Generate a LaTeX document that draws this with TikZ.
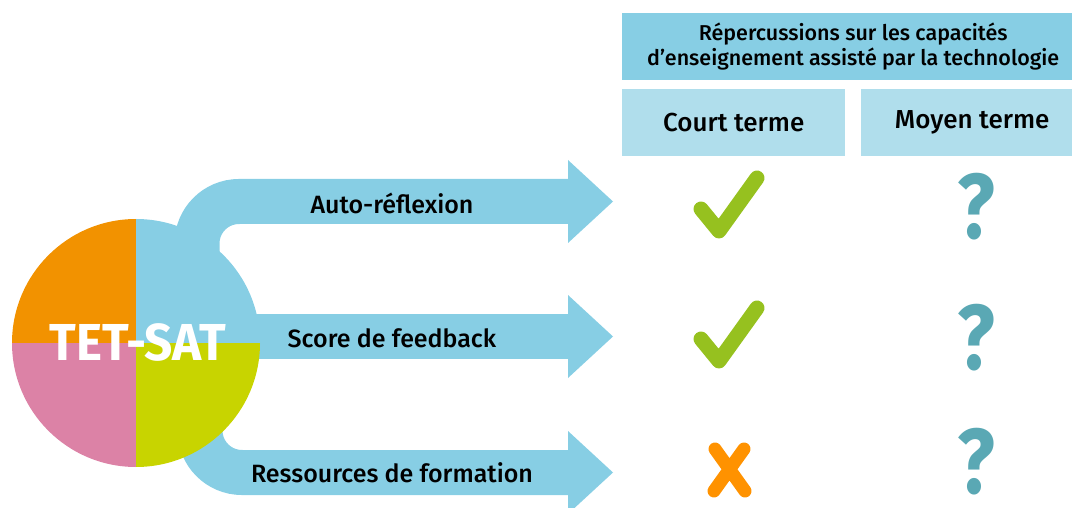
\documentclass[tikz,border=0pt]{standalone}
\usepackage{fontspec}
\setmainfont{Fira Sans}
\newfontfamily\lblfont{Fira Sans Medium}
\newfontfamily\tetfont[FakeStretch=0.95]{Fira Sans}
\newfontfamily\qfont[FakeStretch=0.85]{Fira Sans}
\usetikzlibrary{positioning,calc}
\definecolor{skyband}{RGB}{135,206,228}
\definecolor{skylight}{RGB}{176,222,236}
\definecolor{qorange}{RGB}{242,146,0}
\definecolor{qpink}{RGB}{220,130,166}
\definecolor{qlime}{RGB}{200,212,0}
\definecolor{tickgreen}{RGB}{150,193,31}
\definecolor{crossorange}{RGB}{255,146,0}
\definecolor{qteal}{RGB}{90,168,180}
\tikzset{
  band/.style = {skyband, line width = 45pt},
  lbl/.style = {font = \lblfont\fontsize{25}{28}\selectfont, text = black},
  colbox/.style = {fill = skylight, minimum height = 67pt, inner sep = 0pt,
    font = \lblfont\fontsize{26}{30}\selectfont},
  tick/.style = {tickgreen, line width = 15pt, line cap = round, line join = round},
  cross/.style = {crossorange, line width = 13pt, line cap = round},
  qmark/.style = {text = qteal, inner sep = 0pt, font = \qfont\bfseries\fontsize{92}{92}\selectfont}
}
\newcommand\bandhead[1]{\fill[skyband] (568,{#1-41.5}) -- (613,#1) -- (568,{#1+41.5}) -- cycle;}

\begin{document}
\begin{tikzpicture}[x = 1pt, y = -1pt]
\useasboundingbox (0,0) rectangle (1072,508);
\clip (0,0) rectangle (1072,508);

% bands leaving the wheel
\coordinate (hub) at (136,343);
\draw[band, rounded corners = 42pt] (197,300) -- (197,201.5) -- (570,201.5);
\draw[band] (hub |- 0,336.5) -- (570,336.5);
\draw[band, rounded corners = 42pt] (200,390) -- (200,472.5) -- (570,472.5);
\bandhead{201.5}
\bandhead{336.5}
\bandhead{472.5}

% the wheel
\begin{scope}
\clip (hub) circle[radius = 124];
\fill[qorange] (hub) rectangle (0,200);
\fill[skyband] (hub) rectangle (280,200);
\fill[qpink] (hub) rectangle (0,480);
\fill[qlime] (hub) rectangle (280,480);
\end{scope}
\node[text = white, font = \tetfont\bfseries\fontsize{52}{52}\selectfont] (tetsat) at (138,342) {TET-SAT};

\node[lbl] (autoref) at (392,203) {Auto-réflexion};
\node[lbl] (feedback) at (392,338) {Score de feedback};
\node[lbl] (ressources) at (392,473) {Ressources de formation};

% table head
\node[fill = skyband, minimum width = 462pt, minimum height = 67pt, inner sep = 0pt,
  anchor = north west, align = center, font = \lblfont\fontsize{21.5}{25}\selectfont] (impact) at (622,13)
  {Répercussions sur les capacités\\d’enseignement assisté par la technologie};
\node[colbox, minimum width = 223pt, anchor = north west] (court) at (622,89) {Court terme};
\node[colbox, minimum width = 222pt, anchor = north west] (moyen) at (861,89) {Moyen terme};

% short term
\draw[tick] (701,209) -- (719,231) -- (757,178);
\draw[tick] (701,339) -- (719,361) -- (757,308);
\draw[cross] (715,449) -- (745,491) (744,449) -- (714,491);

% medium term
\node[qmark] (q1) at (976,207) {?};
\node[qmark] (q2) at (976,338) {?};
\node[qmark] (q3) at (976,462) {?};
\end{tikzpicture}
\end{document}
